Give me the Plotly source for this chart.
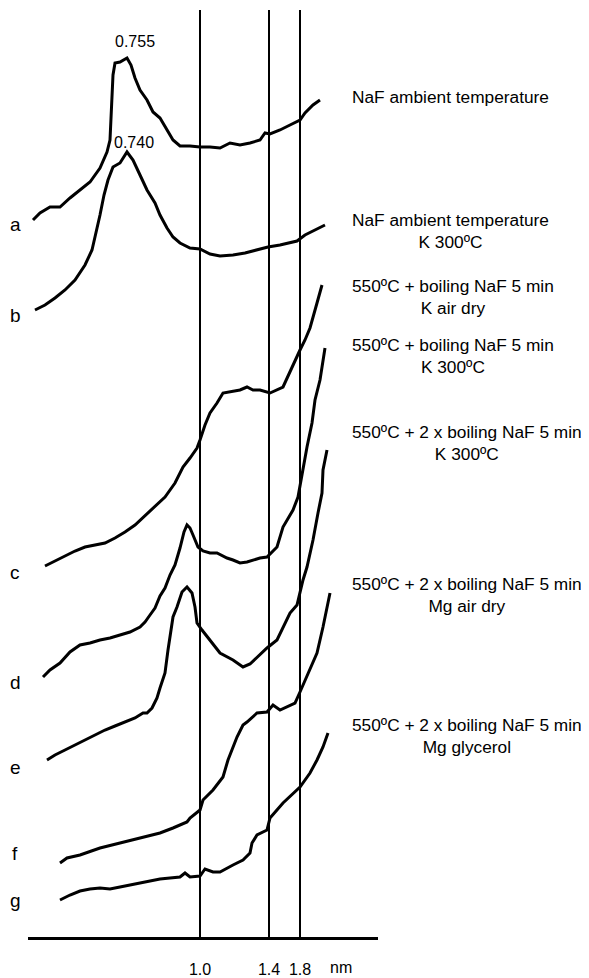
import plotly.graph_objects as go

# ---- data (scan position, stacked relative intensity) ----
a_x = [33,40,50,60,70,80,90,100,107,110,111,112,113,115,120,127,131,135,140,147,153,160,167,173,180,190,200,210,220,230,240,250,260,265,270,280,290,300,305,313,320]
a_y = [758,765,771,771,780,788,796,810,826,838,858,878,903,915,916,920,913,900,888,878,866,860,848,838,832,832,831,831,830,835,833,835,838,845,844,848,853,858,865,873,878]

b_x = [35,45,55,65,75,85,92,97,100,104,108,113,120,127,133,140,147,155,160,167,173,180,190,200,210,220,233,245,257,268,280,297,305,315,325]
b_y = [668,673,680,688,698,713,728,748,763,783,798,811,815,826,818,803,788,775,763,750,741,735,730,729,724,722,723,725,728,731,733,737,743,748,753]

c_x = [45,55,65,75,85,95,105,115,125,135,145,155,165,175,183,190,197,200,205,210,217,223,230,240,247,253,260,270,283,292,300,305,310,317,322]
c_y = [412,417,422,427,431,433,435,440,446,453,462,472,481,495,511,520,530,538,553,565,575,585,586,588,591,588,588,585,591,611,628,638,650,675,693]

d_x = [43,50,60,70,80,90,100,110,120,130,140,145,150,155,160,165,170,175,180,184,187,190,193,198,203,210,217,227,233,240,247,253,260,267,277,283,293,298,302,307,312,315,320,325]
d_y = [301,308,315,326,333,335,338,340,343,346,351,356,363,370,382,390,403,413,430,446,453,450,443,431,427,425,425,420,418,415,416,418,420,421,431,451,468,481,505,531,555,578,598,630]

e_x = [47,55,65,75,85,95,105,115,125,135,143,147,152,157,160,165,168,173,177,182,187,192,195,197,202,210,220,233,243,250,257,267,277,283,290,297,300,303,307,313,318,322,323,327]
e_y = [218,223,228,233,238,243,248,252,256,260,265,265,270,280,290,305,328,361,371,386,391,385,371,355,348,338,325,318,311,314,321,330,338,351,365,373,386,398,411,438,465,485,508,528]

f_x = [60,67,80,100,120,140,160,173,187,190,200,203,213,223,228,237,243,247,252,257,267,273,280,295,300,308,317,323,330]
f_y = [115,120,123,130,135,140,145,150,156,160,168,178,188,201,218,241,253,256,261,265,266,273,268,275,286,305,325,351,385]

g_x = [60,70,80,90,100,110,120,130,140,150,160,170,180,185,190,200,205,213,220,233,243,250,252,257,267,270,283,300,310,317,323,328]
g_y = [78,83,87,89,90,89,91,93,95,97,99,100,101,105,101,102,109,106,106,113,118,125,135,143,148,160,175,191,205,218,231,245]

curve_letters = ["a", "b", "c", "d", "e", "f", "g"]
letter_levels = [754, 663, 406, 296, 211, 125, 78]

sample_labels = [
    "NaF ambient temperature",
    "NaF ambient temperature<br>K 300ºC",
    "550ºC + boiling NaF 5 min<br>K air dry",
    "550ºC + boiling NaF 5 min<br>K 300ºC",
    "550ºC + 2 x boiling NaF 5 min<br>K 300ºC",
    "550ºC + 2 x boiling NaF 5 min<br>Mg air dry",
    "550ºC + 2 x boiling NaF 5 min<br>Mg glycerol",
]
label_levels = [881, 747, 681, 622, 535, 383, 242]

peak_texts = ["0.755", "0.740"]
peak_x = [135, 134]
peak_y = [937, 836]

d_positions = [200, 269, 300]
d_labels = ["1.0", "1.4", "1.8"]
unit_label = "nm"
unit_pos = 341

FONT = "Liberation Sans, Arial, Helvetica, sans-serif"

fig = go.Figure()
for xs, ys in [(a_x, a_y), (b_x, b_y), (c_x, c_y), (d_x, d_y), (e_x, e_y), (f_x, f_y), (g_x, g_y)]:
    fig.add_trace(go.Scatter(x=xs, y=ys, mode="lines",
                             line=dict(color="black", width=3, shape="linear"),
                             showlegend=False, hoverinfo="skip"))

ann = []
for t, yv in zip(curve_letters, letter_levels):
    ann.append(dict(text=t, xref="paper", x=-0.037, yref="y", y=yv,
                    showarrow=False, xanchor="center", yanchor="middle",
                    font=dict(size=19, color="black", family=FONT)))
for t, yv in zip(sample_labels, label_levels):
    ann.append(dict(text=t, xref="paper", x=0.92, yref="y", y=yv,
                    showarrow=False, xanchor="left", yanchor="middle", align="center",
                    font=dict(size=17.3, color="black", family=FONT)))
for t, xv, yv in zip(peak_texts, peak_x, peak_y):
    ann.append(dict(text=t, xref="x", x=xv, yref="y", y=yv,
                    showarrow=False, xanchor="center", yanchor="middle",
                    font=dict(size=16, color="black", family=FONT)))
ann.append(dict(text=unit_label, xref="x", x=unit_pos, yref="paper", y=0,
                showarrow=False, xanchor="center", yanchor="middle", yshift=-30,
                font=dict(size=16, color="black", family=FONT)))

fig.update_layout(
    width=581, height=970,
    margin=dict(l=20, r=211, t=2, b=41),
    paper_bgcolor="white", plot_bgcolor="white",
    annotations=ann,
    xaxis=dict(range=[28, 378], showline=True, linecolor="black", linewidth=2.5,
               tickvals=d_positions, ticktext=d_labels, ticks="",
               showgrid=True, gridcolor="black", gridwidth=2, zeroline=False,
               automargin=False, ticklabelstandoff=16,
               tickfont=dict(size=16, color="black", family=FONT)),
    yaxis=dict(range=[41, 968], visible=False, showgrid=False, zeroline=False,
               automargin=False),
)

fig.write_html("out.html")
